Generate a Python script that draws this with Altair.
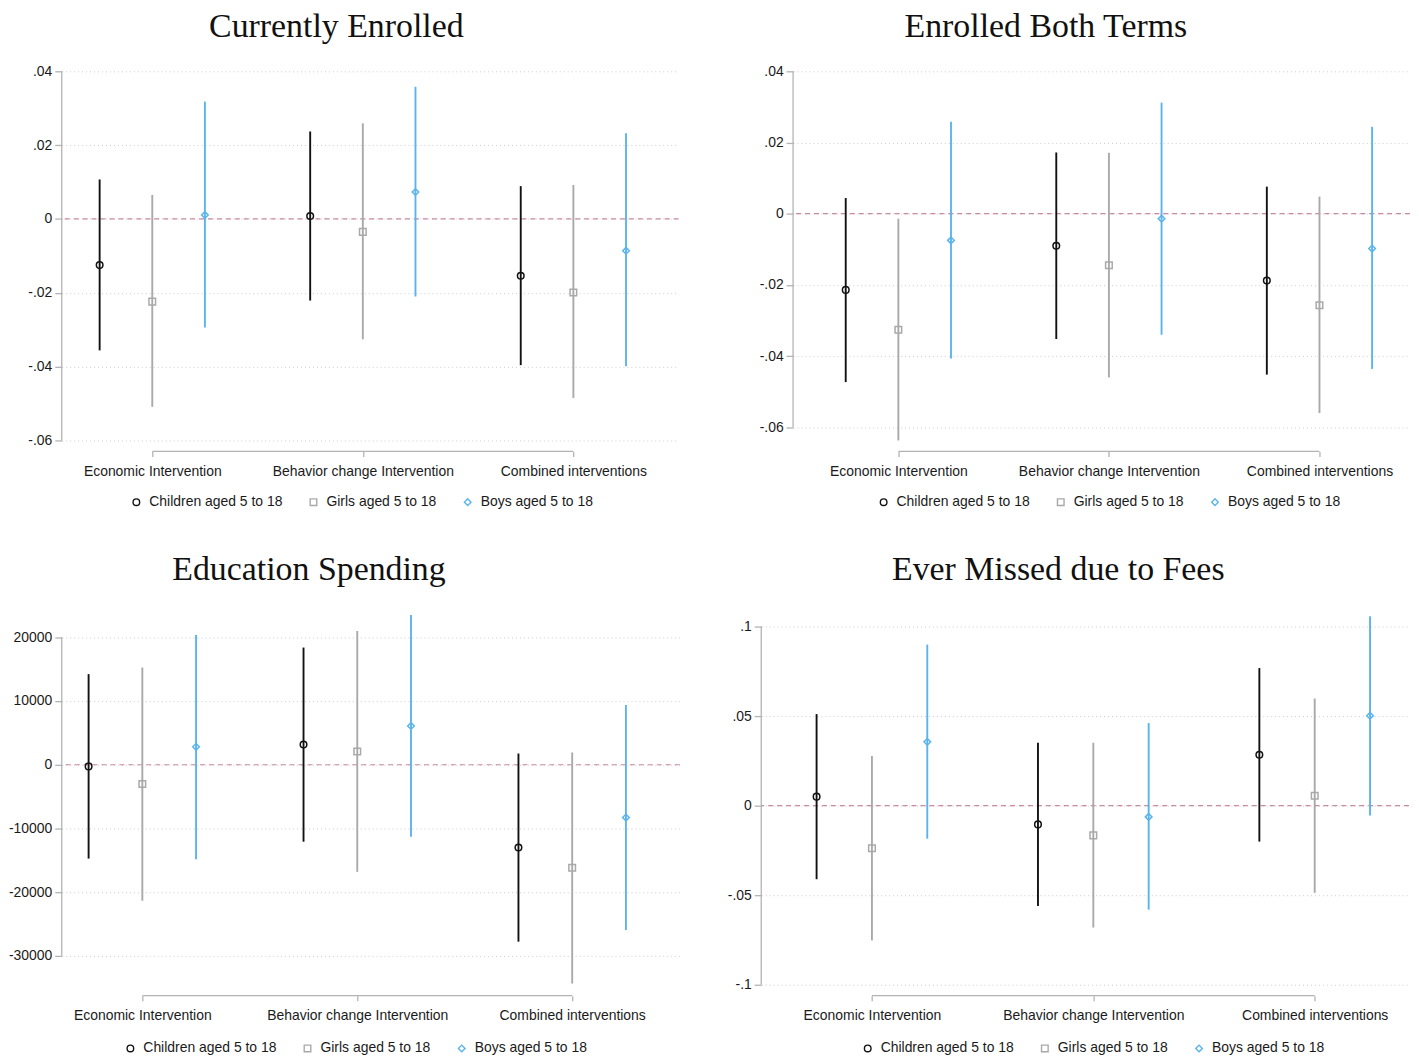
import altair as alt
import pandas as pd

# ---------------- data ----------------
groups = ["Economic Intervention", "Behavior change Intervention", "Combined interventions"]
series = ["Children aged 5 to 18", "Girls aged 5 to 18", "Boys aged 5 to 18"]

# each list: for every group (in order) the values for Children, Girls, Boys
ce_est = [-0.0125, -0.0224, 0.0011, 0.0008, -0.0035, 0.0073, -0.0154, -0.0199, -0.0086]
ce_lo = [-0.0356, -0.0509, -0.0294, -0.0221, -0.0326, -0.0210, -0.0396, -0.0485, -0.0399]
ce_hi = [0.0107, 0.0065, 0.0318, 0.0237, 0.0259, 0.0358, 0.0089, 0.0092, 0.0232]

bt_est = [-0.0214, -0.0326, -0.0075, -0.0090, -0.0145, -0.0014, -0.0188, -0.0257, -0.0098]
bt_lo = [-0.0473, -0.0637, -0.0407, -0.0352, -0.0460, -0.0340, -0.0452, -0.0560, -0.0436]
bt_hi = [0.0044, -0.0014, 0.0258, 0.0172, 0.0171, 0.0312, 0.0076, 0.0048, 0.0244]

ed_est = [-260, -3020, 2810, 3180, 2080, 6090, -13000, -16160, -8290]
ed_lo = [-14730, -21350, -14840, -12080, -16820, -11300, -27770, -34350, -25950]
ed_hi = [14220, 15260, 20360, 18390, 20990, 23490, 1760, 1920, 9380]

fe_est = [0.0050, -0.0238, 0.0356, -0.0105, -0.0166, -0.0063, 0.0284, 0.0055, 0.0502]
fe_lo = [-0.0411, -0.0753, -0.0185, -0.0561, -0.0681, -0.0581, -0.0201, -0.0487, -0.0055]
fe_hi = [0.0511, 0.0277, 0.0899, 0.0351, 0.0351, 0.0461, 0.0768, 0.0598, 0.1057]

share_ticks = [0.04, 0.02, 0, -0.02, -0.04, -0.06]
share_labels = [".04", ".02", "0", "-.02", "-.04", "-.06"]
edu_ticks = [20000, 10000, 0, -10000, -20000, -30000]
edu_labels = ["20000", "10000", "0", "-10000", "-20000", "-30000"]
fee_ticks = [0.1, 0.05, 0, -0.05, -0.1]
fee_labels = [".1", ".05", "0", "-.05", "-.1"]

# ---------------- style ----------------
SANS = "Liberation Sans"
SERIF = "Liberation Serif"
TXT = "#1a1a1a"
AXIS_GRAY = "#b3b3b3"
GRID_GRAY = "#cccccc"
ZERO_COLOR = "#c98aa3"
series_colors = ["#111111", "#a9a9a9", "#5ab4ec"]
series_shapes = ["circle", "square", "diamond"]
series_offsets = [-0.25, 0.0, 0.25]


def label_expr(values, labels):
    expr = "''"
    for v, l in reversed(list(zip(values, labels))):
        expr = f"datum.value == {v} ? '{l}' : ({expr})"
    return expr


def panel(title, est, lo, hi, ticks, tick_labels, ydom, xdom, width, height,
          title_dx, title_offset, legend_x, legend_y, axis_offset, min_extent):
    rows = []
    for gi, g in enumerate(groups):
        for si, s in enumerate(series):
            k = gi * 3 + si
            rows.append({"group": g, "series": s,
                         "x": gi + 1 + series_offsets[si],
                         "est": est[k], "lo": lo[k], "hi": hi[k]})
    df = pd.DataFrame(rows)
    one = pd.DataFrame({"ref": [0]})

    xscale = alt.Scale(domain=xdom, nice=False, zero=False)
    yscale = alt.Scale(domain=ydom, nice=False, zero=False)

    xaxis = alt.Axis(values=[1, 2, 3], labelExpr=label_expr([1, 2, 3], groups),
                     grid=False, domain=False, ticks=True, tickSize=5,
                     tickColor=AXIS_GRAY, tickWidth=1.3, offset=axis_offset,
                     labelPadding=8, labelFont=SANS, labelFontSize=14,
                     labelColor=TXT, labelOverlap=False, labelFlush=False,
                     labelBound=False, labelLimit=400, title=None)
    yaxis = alt.Axis(values=ticks, labelExpr=label_expr(ticks, tick_labels),
                     grid=True, gridDash=[1, 3], gridColor=GRID_GRAY, gridWidth=1,
                     domain=False, ticks=True, tickSize=7, tickColor=AXIS_GRAY,
                     tickWidth=1.3, labelPadding=3, labelFont=SANS,
                     labelFontSize=14, labelColor=TXT, title=None,
                     minExtent=min_extent)

    leg = alt.Legend(title=None, orient="none", legendX=legend_x, legendY=legend_y,
                     direction="horizontal", labelFont=SANS, labelFontSize=14,
                     labelColor=TXT, symbolSize=44, symbolStrokeWidth=1.4,
                     columnPadding=24, labelOffset=6, padding=0)
    cscale = alt.Scale(domain=series, range=series_colors)
    sscale = alt.Scale(domain=series, range=series_shapes)

    base = alt.Chart(df)
    pts = base.mark_point(filled=False, size=44, strokeWidth=1.5, opacity=1).encode(
        x=alt.X("x:Q", scale=xscale, axis=xaxis),
        y=alt.Y("est:Q", scale=yscale, axis=yaxis),
        color=alt.Color("series:N", scale=cscale, legend=leg),
        shape=alt.Shape("series:N", scale=sscale, legend=leg),
    )
    bars = base.mark_rule(strokeWidth=1.9).encode(
        x=alt.X("x:Q", scale=xscale, axis=xaxis),
        y=alt.Y("lo:Q", scale=yscale, axis=yaxis),
        y2="hi:Q",
        color=alt.Color("series:N", scale=cscale, legend=leg),
    )
    zero = alt.Chart(one).mark_rule(strokeDash=[5, 4], color=ZERO_COLOR, strokeWidth=1.2).encode(
        y=alt.YDatum(0, scale=yscale, axis=yaxis)
    )
    yline = alt.Chart(one).mark_rule(color=AXIS_GRAY, strokeWidth=1.3).encode(
        x=alt.value(0),
        y=alt.YDatum(ticks[0], scale=yscale, axis=yaxis),
        y2=alt.Y2Datum(ticks[-1]),
    )
    xline = alt.Chart(one).mark_rule(color=AXIS_GRAY, strokeWidth=1.3).encode(
        x=alt.XDatum(1, scale=xscale, axis=xaxis),
        x2=alt.X2Datum(3),
        y=alt.value(height + axis_offset),
    )
    return alt.layer(zero, yline, xline, pts, bars).properties(
        width=width, height=height,
        title=alt.TitleParams(title, font=SERIF, fontSize=34, fontWeight="normal",
                              color="#111111", anchor="middle", frame="group",
                              dx=title_dx, offset=title_offset, baseline="bottom"),
    )


tl = panel("Currently Enrolled", ce_est, ce_lo, ce_hi, share_ticks, share_labels,
           [-0.06, 0.04], [0.57, 3.5], 620, 371, -34, -14, 68, 426, 11, 39)
tr = panel("Enrolled Both Terms", bt_est, bt_lo, bt_hi, share_ticks, share_labels,
           [-0.0637, 0.04], [0.5, 3.43], 620, 371, -56, -14, 84, 426, 11, 39)
bl = panel("Education Spending", ed_est, ed_lo, ed_hi, edu_ticks, edu_labels,
           [-35000, 24500], [0.625, 3.5], 621, 381, -62, -12, 62, 435, 8, 30)
br = panel("Ever Missed due to Fees", fe_est, fe_lo, fe_hi, fee_ticks, fee_labels,
           [-0.1017, 0.11], [0.5, 3.426], 651, 381, -27, -12, 100, 435, 8, 36)

ind = dict(color="independent", shape="independent")
top = alt.hconcat(tl, tr, spacing=75).resolve_scale(**ind)
bottom = alt.hconcat(bl, br, spacing=45).resolve_scale(**ind)
chart = alt.vconcat(top, bottom, spacing=44).resolve_scale(**ind).properties(
    padding={"left": 0, "top": 0, "right": 0, "bottom": 0}
).configure_view(stroke=None)

chart.save("out.html", embed_options={"renderer": "svg", "actions": False})
